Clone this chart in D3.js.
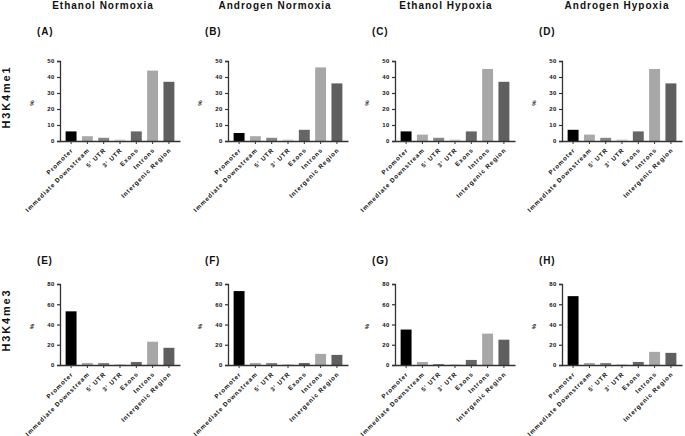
<!DOCTYPE html>
<html><head><meta charset="utf-8">
<script src="https://cdn.jsdelivr.net/npm/d3@7"></script>
<style>
body{margin:0;background:#fff;}
svg{display:block;font-family:"Liberation Sans",Arial,sans-serif;font-weight:bold;}
</style></head>
<body><svg id="c" width="685" height="436"></svg>
<script>
const categories = ["Promoter","Immediate Downstream","5' UTR","3' UTR","Exons","Introns","Intergenic Region"];
const barColors = ["#000000","#a9a9a9","#858585","#d9d9d9","#666666","#a7a7a7","#5f5f5f"];
const conditions = ["Ethanol Normoxia","Androgen Normoxia","Ethanol Hypoxia","Androgen Hypoxia"];
const marks = ["H3K4me1","H3K4me3"];
const panelLetters = [["(A)","(B)","(C)","(D)"],["(E)","(F)","(G)","(H)"]];
const yTicksMe1 = [0,10,20,30,40,50];
const yTicksMe3 = [0,20,40,60,80];
// H3K4me1 (%)
const valuesA = [6,3,2,1,6,44,37];
const valuesB = [5,3,2,1,7,46,36];
const valuesC = [6,4,2,1,6,45,37];
const valuesD = [7,4,2,1,6,45,36];
// H3K4me3 (%)
const valuesE = [53,2,2,1,3,23,17];
const valuesF = [73,2,2,1,2,11,10];
const valuesG = [35,3,1,1,5,31,25];
const valuesH = [68,2,2,1,3,13,12];

const rows = [
  {mark:marks[0], ticks:yTicksMe1, max:50, series:[valuesA,valuesB,valuesC,valuesD]},
  {mark:marks[1], ticks:yTicksMe3, max:80, series:[valuesE,valuesF,valuesG,valuesH]}
];

const svg = d3.select("#c");
const colX = [60, 228, 395, 562];
const titleX = [103, 275, 446, 617];
const rowTop = [61, 284];
const rowBottom = [141, 365];
const rowLabelY = [97, 320];
const letterY = [35, 264];
const axisW = 120;
const axisColor = "#333";

// column titles
conditions.forEach((t,i)=>{
  svg.append("text").attr("x",titleX[i]).attr("y",9)
    .attr("text-anchor","middle").attr("font-size",10).attr("letter-spacing",1.0)
    .attr("fill","#111").text(t);
});

rows.forEach((row,r)=>{
  // row label
  svg.append("text")
    .attr("transform",`translate(10,${rowLabelY[r]}) rotate(-90)`)
    .attr("text-anchor","middle").attr("font-size",11).attr("letter-spacing",1.8)
    .attr("fill","#111").text(row.mark);

  const y = d3.scaleLinear().domain([0,row.max]).range([rowBottom[r],rowTop[r]]);

  row.series.forEach((vals,c)=>{
    const x0 = colX[c];
    const x = d3.scaleBand().domain(categories).range([x0, x0+axisW])
      .paddingInner(0.33).paddingOuter(0.345);
    const g = svg.append("g");

    // panel letter
    g.append("text").attr("x",x0-23).attr("y",letterY[r])
      .attr("font-size",10).attr("letter-spacing",0.8).attr("fill","#111")
      .text(panelLetters[r][c]);

    // % label
    g.append("text")
      .attr("transform",`translate(${x0-26},${(rowTop[r]+rowBottom[r])/2+2}) rotate(-90)`)
      .attr("text-anchor","middle").attr("font-size",6).attr("fill","#222").text("%");

    // bars
    g.selectAll("rect").data(vals).enter().append("rect")
      .attr("x",(d,i)=>x(categories[i]))
      .attr("width",x.bandwidth())
      .attr("y",d=>y(d))
      .attr("height",d=>y(0)-y(d))
      .attr("fill",(d,i)=>barColors[i]);

    // y axis
    const ya = g.append("g").attr("transform",`translate(${x0},0)`)
      .call(d3.axisLeft(y).tickValues(row.ticks).tickSize(3).tickPadding(2));
    ya.select(".domain").attr("stroke",axisColor).attr("stroke-width",1.3);
    ya.selectAll(".tick line").attr("stroke",axisColor).attr("stroke-width",1.2);
    ya.selectAll(".tick text").attr("font-size",6).attr("font-family","Liberation Sans, Arial")
      .attr("font-weight","bold").attr("letter-spacing",0.6).attr("fill","#111");

    // x axis
    const xa = g.append("g").attr("transform",`translate(0,${rowBottom[r]})`)
      .call(d3.axisBottom(x).tickSize(3).tickSizeOuter(0));
    xa.select(".domain").attr("stroke",axisColor).attr("stroke-width",1.3);
    xa.selectAll(".tick line").attr("stroke",axisColor).attr("stroke-width",1);
    xa.selectAll(".tick text")
      .attr("font-size",6.2).attr("font-family","Liberation Sans, Arial")
      .attr("font-weight","bold").attr("letter-spacing",0.9).attr("fill","#111")
      .attr("text-anchor","end")
      .attr("y",0).attr("dy","0.35em")
      .attr("transform","translate(1,8) rotate(-45)");
  });
});
</script></body></html>
